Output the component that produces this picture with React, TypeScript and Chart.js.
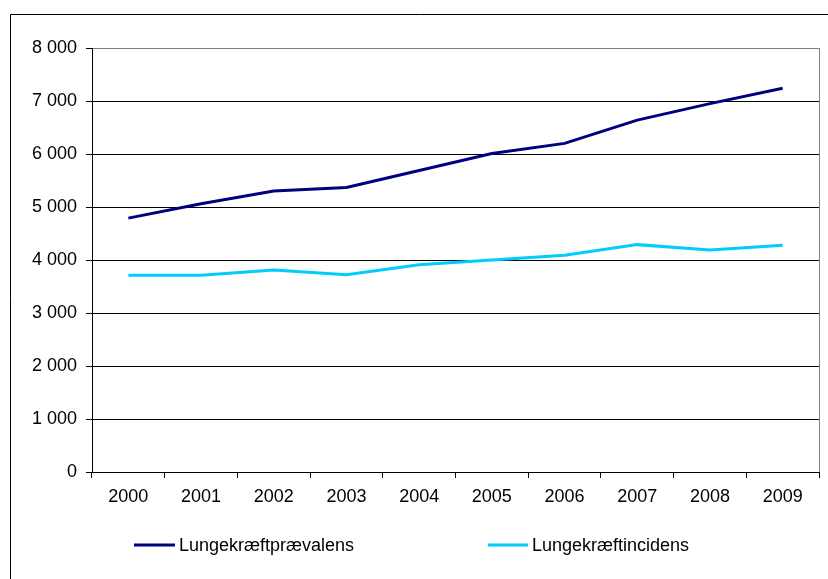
import React, { useEffect, useRef } from "react";
import { Chart, registerables } from "chart.js";

Chart.register(...registerables);

// Årstal og serier
const years = ["2000", "2001", "2002", "2003", "2004", "2005", "2006", "2007", "2008", "2009"];
const praevalens = [4790, 5060, 5300, 5370, 5690, 6010, 6200, 6640, 6950, 7240];
const incidens = [3710, 3710, 3810, 3720, 3910, 4000, 4090, 4290, 4190, 4280];
const seriesLabels = ["Lungekræftprævalens", "Lungekræftincidens"];
const seriesColors = ["#000080", "#00CCFF"];

const FONT = "'Liberation Sans', Arial, sans-serif";
const W = 828;
const H = 579;

// Tusindtalsseparator med mellemrum: 8000 -> "8 000"
const fmt = (v: number) => String(v).replace(/\B(?=(\d{3})+(?!\d))/g, " ");

// Ramme om diagrammet, grå kant om plotområdet og forklaring nederst
const decorPlugin = {
  id: "decor",
  afterDraw(chart: any) {
    const { ctx, chartArea } = chart;
    ctx.save();
    // ydre ramme (venstre og øverste kant)
    ctx.strokeStyle = "#000";
    ctx.lineWidth = 1;
    ctx.beginPath();
    ctx.moveTo(10.5, H + 2);
    ctx.lineTo(10.5, 14.5);
    ctx.lineTo(W + 2, 14.5);
    ctx.stroke();
    // plotområdets højre kant
    ctx.strokeStyle = "#808080";
    ctx.beginPath();
    ctx.moveTo(Math.round(chartArea.right) + 0.5, chartArea.top);
    ctx.lineTo(Math.round(chartArea.right) + 0.5, chartArea.bottom);
    ctx.stroke();

    // forklaring
    const legendY = 545;
    const items = [
      { x1: 134, x2: 175 },
      { x1: 488, x2: 528 },
    ];
    ctx.font = `18px ${FONT}`;
    ctx.textBaseline = "middle";
    ctx.textAlign = "left";
    chart.data.datasets.forEach((ds: any, i: number) => {
      const it = items[i];
      ctx.strokeStyle = ds.borderColor;
      ctx.lineWidth = 3;
      ctx.beginPath();
      ctx.moveTo(it.x1, legendY);
      ctx.lineTo(it.x2, legendY);
      ctx.stroke();
      ctx.fillStyle = "#000";
      ctx.fillText(ds.label, it.x2 + 4, legendY + 1);
    });
    ctx.restore();
  },
};

export default function App() {
  const ref = useRef<HTMLCanvasElement | null>(null);

  useEffect(() => {
    if (!ref.current) return;
    const chart = new Chart(ref.current, {
      type: "line",
      data: {
        labels: years,
        datasets: [
          {
            label: seriesLabels[0],
            data: praevalens,
            borderColor: seriesColors[0],
            backgroundColor: seriesColors[0],
            borderWidth: 3,
            pointRadius: 0,
            tension: 0,
          },
          {
            label: seriesLabels[1],
            data: incidens,
            borderColor: seriesColors[1],
            backgroundColor: seriesColors[1],
            borderWidth: 3,
            pointRadius: 0,
            tension: 0,
          },
        ],
      },
      options: {
        responsive: false,
        animation: false,
        devicePixelRatio: 1,
        layout: { padding: { top: 48, right: 9, left: 0, bottom: 0 } },
        plugins: {
          legend: { display: false },
          tooltip: { enabled: false },
        },
        scales: {
          x: {
            type: "category",
            offset: true,
            afterFit: (s: any) => {
              s.height = H - 472;
            },
            grid: {
              offset: true,
              drawOnChartArea: false,
              drawTicks: true,
              tickLength: 6,
              color: "#000",
            },
            border: { color: "#000", width: 1 },
            ticks: {
              color: "#000",
              font: { family: FONT, size: 18 },
              padding: 8,
              maxRotation: 0,
              autoSkip: false,
            },
          },
          y: {
            min: 0,
            max: 8000,
            afterFit: (s: any) => {
              s.width = 92;
            },
            grid: {
              color: (c: any) => (c.tick && c.tick.value === 8000 ? "#808080" : "#000"),
              tickColor: "#000",
              tickLength: 6,
            },
            border: { color: "#000", width: 1 },
            ticks: {
              stepSize: 1000,
              color: "#000",
              font: { family: FONT, size: 18 },
              padding: 9,
              callback: (v: any) => fmt(Number(v)),
            },
          },
        },
      },
      plugins: [decorPlugin],
    });
    return () => chart.destroy();
  }, []);

  return (
    <div style={{ position: "absolute", left: 0, top: 0, width: W, height: H, background: "#fff" }}>
      <canvas ref={ref} width={W} height={H} style={{ display: "block" }} />
    </div>
  );
}
